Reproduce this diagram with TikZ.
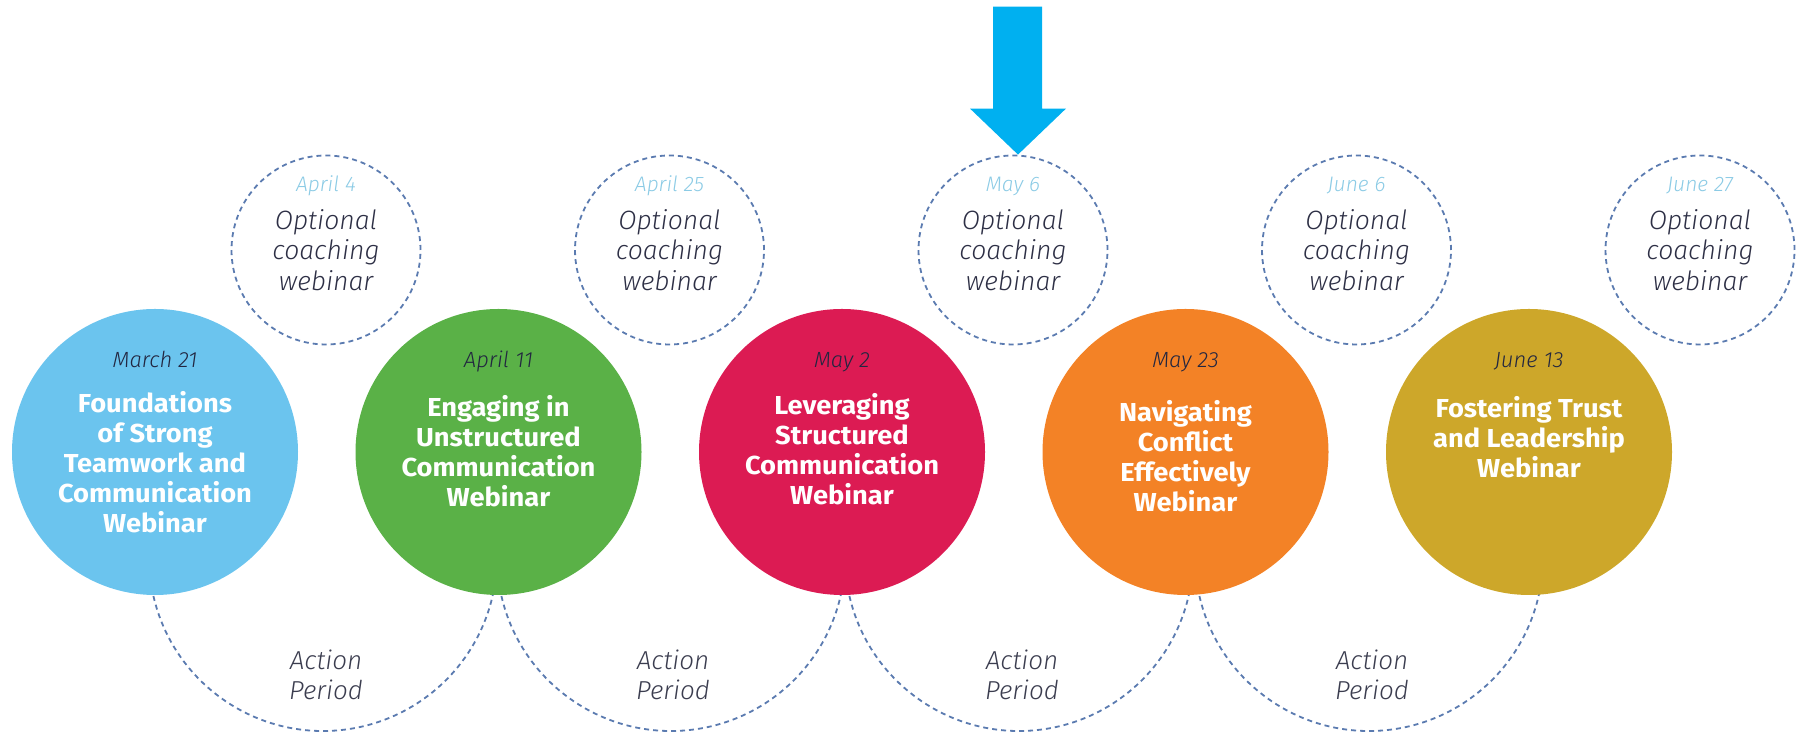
\documentclass[tikz,border=0pt]{standalone}
\usepackage{fontspec}
\usetikzlibrary{calc}
\setmainfont{Fira Sans}
\newfontfamily\lightfont{Fira Sans Light}
\newfontfamily\titlefont{Fira Sans}[FakeStretch=1.05]
\definecolor{cblue}{HTML}{6BC4EE}
\definecolor{cgreen}{HTML}{5AB147}
\definecolor{cred}{HTML}{DC1B53}
\definecolor{corange}{HTML}{F38226}
\definecolor{cgold}{HTML}{CDA72A}
\definecolor{carrow}{HTML}{00B0F0}
\definecolor{dashc}{HTML}{5B7BB0}
\definecolor{topdate}{HTML}{8CCBE5}
\definecolor{coachtext}{HTML}{2D2F45}
\definecolor{actiontext}{HTML}{3B3D4F}
\definecolor{datedark}{HTML}{222640}
\newcommand\mlines[1]{\begin{tabular}[t]{@{}c@{}}#1\end{tabular}}
\begin{document}
\begin{tikzpicture}[x=1pt,y=1pt,
  webinar/.style={circle, inner sep=0pt, minimum size=286pt},
  coach/.style={circle, draw=dashc, dash pattern=on 5pt off 4pt, line width=1.8pt, inner sep=0pt, minimum size=189pt},
  actionarc/.style={draw=dashc, dash pattern=on 5pt off 4pt, line width=1.8pt},
  datetxt/.style={anchor=base, inner sep=0pt, text=datedark, font=\lightfont\itshape\fontsize{22}{26}\selectfont},
  titletxt/.style={anchor=base, inner sep=0pt, text=white, font=\titlefont\bfseries\fontsize{26}{29.7}\selectfont},
  topdatetxt/.style={anchor=base, inner sep=0pt, text=topdate, font=\lightfont\itshape\fontsize{21}{25}\selectfont},
  coachtxt/.style={anchor=base, inner sep=0pt, text=coachtext, font=\lightfont\itshape\fontsize{26.5}{30.5}\selectfont},
  actiontxt/.style={anchor=base, inner sep=0pt, text=actiontext, font=\lightfont\itshape\fontsize{26}{30}\selectfont},
  arrowfill/.style={fill=carrow, draw=none}
]
\useasboundingbox (0,0) rectangle (1805,735);

% action period arcs (behind circles)
\foreach \i/\cx in {1/323, 2/671, 3/1019, 4/1369} {
  \coordinate (a\i) at (\cx,178);
  \draw[actionarc] ($(a\i)+(190:174)$) arc[start angle=190, end angle=350, radius=174];
}

% webinar circles
\node[webinar, fill=cblue]   (w1) at (155,283) {};
\node[webinar, fill=cgreen]  (w2) at (498.5,283) {};
\node[webinar, fill=cred]    (w3) at (842,283) {};
\node[webinar, fill=corange] (w4) at (1185.5,283) {};
\node[webinar, fill=cgold]   (w5) at (1529,283) {};

% dates in webinar circles
\node[datetxt] (d1) at (155,367.5) {March 21};
\node[datetxt] (d2) at (498.5,367.5) {April 11};
\node[datetxt] (d3) at (842,367.5) {May 2};
\node[datetxt] (d4) at (1185.5,367.5) {May 23};
\node[datetxt] (d5) at (1529,367.5) {June 13};

% titles
\node[titletxt] (t1) at (155,322) {\mlines{Foundations\\of Strong\\Teamwork and\\Communication\\Webinar}};
\node[titletxt] (t2) at (498.5,318) {\mlines{Engaging in\\Unstructured\\Communication\\Webinar}};
\node[titletxt] (t3) at (842,320) {\mlines{Leveraging\\Structured\\Communication\\Webinar}};
\node[titletxt] (t4) at (1185.5,313) {\mlines{Navigating\\Conflict\\Effectively\\Webinar}};
\node[titletxt] (t5) at (1529,317) {\mlines{Fostering Trust\\and Leadership\\Webinar}};

% optional coaching circles
\foreach \i/\cx/\dt in {1/326/April 4, 2/669.5/April 25, 3/1013/May 6, 4/1356.5/June 6, 5/1700/June 27} {
  \node[coach] (c\i) at (\cx,485) {};
  \node[topdatetxt] (cd\i) at (\cx,543) {\dt};
  \node[coachtxt] (ct\i) at (\cx,505.5) {\mlines{Optional\\coaching\\webinar}};
}

% action period labels
\foreach \i/\cx in {1/326, 2/673, 3/1022, 4/1372} {
  \node[actiontxt] (ap\i) at (\cx,65) {\mlines{Action\\Period}};
}

% arrow pointing at the May 6 coaching circle
\coordinate (tip) at ($(c3.north)+(5,0)$);
\fill[arrowfill] (tip) -- ++(48,46) -- ++(-24,0) -- ++(0,102) -- ++(-49,0) -- ++(0,-102) -- ++(-23,0) -- cycle;
\end{tikzpicture}
\end{document}
